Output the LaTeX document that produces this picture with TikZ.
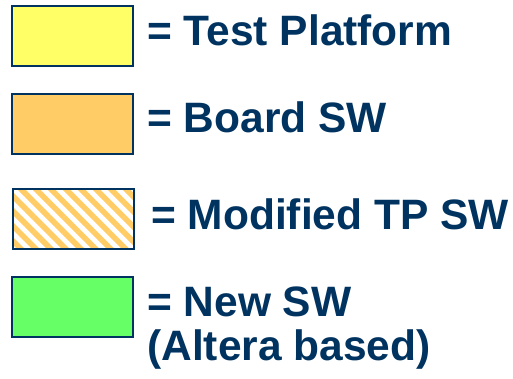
\documentclass[tikz,border=0pt]{standalone}
\usepackage{fontspec}
\setmainfont{Liberation Sans}
\usetikzlibrary{patterns.meta}
\definecolor{navy}{HTML}{003360}
\definecolor{tpyellow}{HTML}{FFFF66}
\definecolor{bsworange}{HTML}{FFCC66}
\definecolor{swgreen}{HTML}{66FF66}
\tikzset{
  keybox/.style={draw=navy, line width=2pt, minimum width=121pt, minimum height=60pt,
    anchor=north west, inner sep=0pt},
  keytext/.style={anchor=base west, inner sep=0pt, text=navy,
    font=\fontsize{42.5}{44}\selectfont\bfseries}
}
\begin{document}
\begin{tikzpicture}[x=1pt,y=-1pt]
  \useasboundingbox (0,0) rectangle (513,378);
  % colour key boxes
  \node[keybox, fill=tpyellow] (tp) at (10.5,5) {};
  \node[keybox, fill=bsworange] (bsw) at (10.5,93) {};
  \node[keybox, fill=white,
        pattern={Lines[angle=-45, distance=10.6pt, line width=5.5pt]},
        pattern color=bsworange] (mtp) at (10.5,186) {};
  \node[keybox, fill=swgreen] (nsw) at (10.5,276) {};
  % labels
  \node[keytext] (tplabel) at (147,45) {= Test Platform};
  \node[keytext] (bswlabel) at (147,132) {= Board SW};
  \node[keytext] (mtplabel) at (151,229) {= Modified TP SW};
  \node[keytext] (nswlabel) at (147,316) {= New SW};
  \node[keytext] (nswnote) at (147,360) {(Altera based)};
\end{tikzpicture}
\end{document}
